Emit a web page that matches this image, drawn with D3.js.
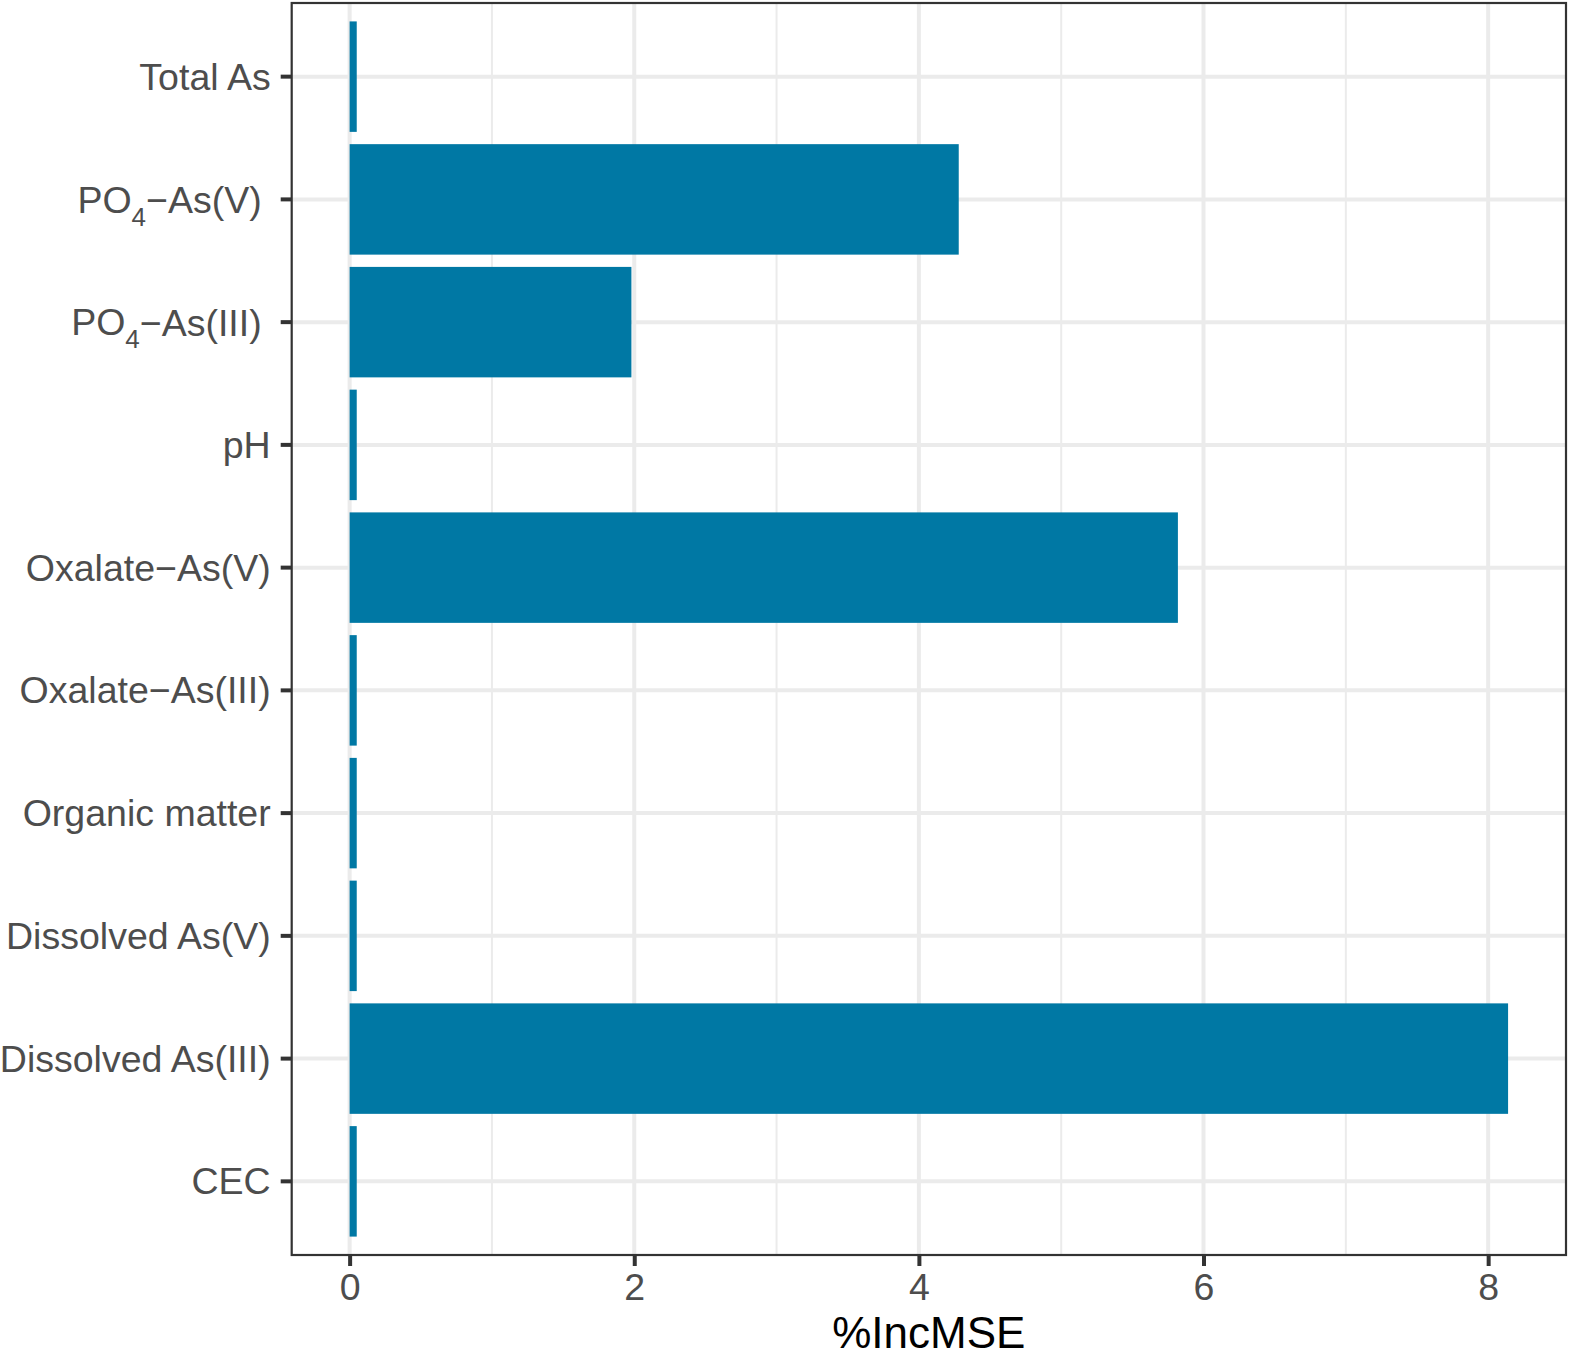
<!DOCTYPE html>
<html><head><meta charset="utf-8">
<script src="https://cdn.jsdelivr.net/npm/d3@7"></script>
<style>body{margin:0;background:#fff}text{font-family:"Liberation Sans",Arial,sans-serif}</style>
</head><body>
<svg id="c" width="1571" height="1358"></svg>
<script>
const categories = ["Total As","PO4-As(V)","PO4-As(III)","pH","Oxalate-As(V)","Oxalate-As(III)","Organic matter","Dissolved As(V)","Dissolved As(III)","CEC"];
const values = [0.05,4.28,1.98,0.05,5.82,0.05,0.05,0.05,8.14,0.05];
const xTicks = [0,2,4,6,8];
const xTitle = "%IncMSE";

const svg = d3.select("#c");
const L = 291.7, R = 1566, T = 3, B = 1255;
const maxV = d3.max(values);
const x = d3.scaleLinear().domain([-maxV*0.05, maxV*1.05]).range([L, R]);
const n = categories.length;
const step = (B - T) / (n - 1 + 1.2);
const y = d3.scaleBand().domain(categories).range([T + 0.6*step - step/2, B - 0.6*step + step/2]).paddingInner(0.1).paddingOuter(0.05);

// panel background
svg.append("rect").attr("x",L).attr("y",T).attr("width",R-L).attr("height",B-T).attr("fill","#fff");
// minor gridlines
const minor = [1,3,5,7];
svg.append("g").selectAll("line").data(minor).join("line")
  .attr("x1",d=>x(d)).attr("x2",d=>x(d)).attr("y1",T).attr("y2",B)
  .attr("stroke","#ebebeb").attr("stroke-width",2);
// major gridlines
svg.append("g").selectAll("line").data(xTicks).join("line")
  .attr("x1",d=>x(d)).attr("x2",d=>x(d)).attr("y1",T).attr("y2",B)
  .attr("stroke","#ebebeb").attr("stroke-width",4);
svg.append("g").selectAll("line").data(categories).join("line")
  .attr("y1",d=>y(d)+y.bandwidth()/2).attr("y2",d=>y(d)+y.bandwidth()/2).attr("x1",L).attr("x2",R)
  .attr("stroke","#ebebeb").attr("stroke-width",4);

// bars
svg.append("g").selectAll("rect").data(categories).join("rect")
  .attr("x",x(0)).attr("y",d=>y(d))
  .attr("width",(d,i)=>x(values[i])-x(0)).attr("height",y.bandwidth())
  .attr("fill","#0078a4");

// border
svg.append("rect").attr("x",L).attr("y",T).attr("width",R-L).attr("height",B-T)
  .attr("fill","none").attr("stroke","#333").attr("stroke-width",2.2);

// x axis
const xAxis = d3.axisBottom(x).tickValues(xTicks).tickSize(11).tickPadding(8).tickFormat(d3.format("d"));
const gx = svg.append("g").attr("transform",`translate(0,${B})`).call(xAxis);
gx.select(".domain").remove();
gx.selectAll(".tick line").attr("stroke","#333").attr("stroke-width",4);
gx.selectAll(".tick text").attr("fill","#4d4d4d").attr("font-size",37.5).attr("font-family","Liberation Sans, Arial, sans-serif").attr("dy","0.7em");

// y axis
const yAxis = d3.axisLeft(y).tickSize(11).tickPadding(10);
const gy = svg.append("g").attr("transform",`translate(${L},0)`).call(yAxis);
gy.select(".domain").remove();
gy.selectAll(".tick line").attr("stroke","#333").attr("stroke-width",4);
gy.selectAll(".tick text").attr("fill","#4d4d4d").attr("font-size",37.5)
  .attr("font-family","Liberation Sans, Arial, sans-serif").attr("dy","0.35em")
  .each(function(d){
    const t = d3.select(this);
    const m = d.match(/^PO4-(.*)$/);
    t.text(null);
    if (m) {
      t.attr("x",-30);
      t.append("tspan").text("PO");
      t.append("tspan").text("4").attr("font-size",26).attr("dy","0.5em");
      t.append("tspan").text("\u2212" + m[1]).attr("dy","-0.34em");
    } else {
      t.text(d.replace("-","\u2212"));
    }
  });

// x title
svg.append("text").attr("x",(L+R)/2).attr("y",1348).attr("text-anchor","middle")
  .attr("font-size",44).attr("fill","#000").text(xTitle);
</script>
</body></html>
